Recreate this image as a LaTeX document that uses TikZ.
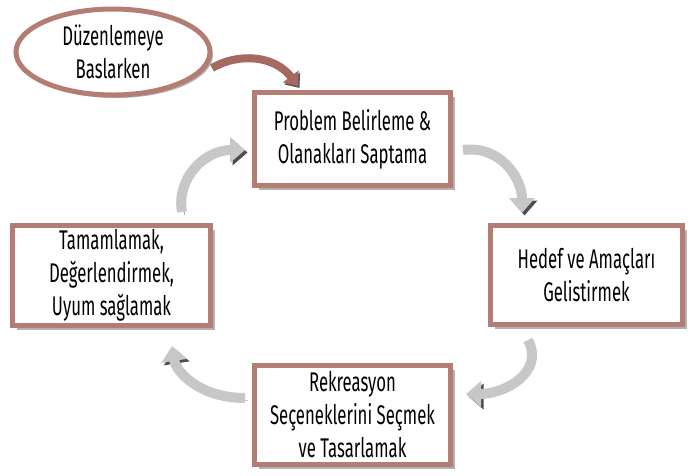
\documentclass[tikz,border=0pt]{standalone}
\usepackage{fontspec}
\setmainfont[FakeStretch=0.62]{Fira Sans}
\usetikzlibrary{shadows,arrows.meta,shapes.geometric}
\definecolor{boxbrown}{RGB}{180,125,115}
\definecolor{arrbrown}{RGB}{165,105,98}
\begin{document}
\begin{tikzpicture}[x=1pt,y=-1pt,
  stepbox/.style={draw=boxbrown, line width=5pt, fill=white, align=center,
    inner sep=0pt, font=\fontsize{27}{33}\selectfont,
    drop shadow={shadow xshift=4pt, shadow yshift=-4pt, fill=black!55, opacity=0.55}},
  startell/.style={ellipse, draw=boxbrown, line width=5pt, fill=white, align=center,
    inner sep=0pt, minimum width=194pt, minimum height=86pt, font=\fontsize{27}{33}\selectfont,
    drop shadow={shadow xshift=3pt, shadow yshift=-3pt, fill=black!55, opacity=0.55}},
  garrow/.style={line width=10pt, draw=black!22, -{Triangle[width=25pt,length=15pt]},
    preaction={draw=black!70, transform canvas={xshift=2.5pt,yshift=-2.5pt}}},
  barrow/.style={line width=8pt, draw=arrbrown, -{Triangle[width=19pt,length=12pt]},
    preaction={draw=black!65, transform canvas={xshift=1.5pt,yshift=-2pt}}}
]
\fill[white] (0,0) rectangle (690,475);
\useasboundingbox (0,0) rectangle (690,475);

\node[startell] (start) at (113,52) {Düzenlemeye\\Baslarken};
\node[stepbox, minimum width=196pt, minimum height=93pt] (p) at (352.5,139) {Problem Belirleme \&\\Olanakları Saptama};
\node[stepbox, minimum width=192pt, minimum height=99pt] (r) at (586.5,275) {Hedef ve Amaçları\\Gelistirmek};
\node[stepbox, minimum width=196pt, minimum height=99pt] (b) at (352.5,415) {Rekreasyon\\Seçeneklerini Seçmek\\ve Tasarlamak};
\node[stepbox, minimum width=198pt, minimum height=100pt] (l) at (111.5,275.5) {Tamamlamak,\\Değerlendirmek,\\Uyum sağlamak};

\coordinate (a0s) at (212,68);
\coordinate (a0e) at (298,86);
\coordinate (a1s) at (182,212);
\coordinate (a1e) at (245,150);
\coordinate (a2s) at (463,150);
\coordinate (a2e) at (522,213);
\coordinate (a3s) at (528,340);
\coordinate (a3e) at (466,394);
\coordinate (a4s) at (245,398);
\coordinate (a4e) at (172,346);

\draw[barrow] (a0s) .. controls (240,52) and (275,56) .. (a0e);
\draw[garrow] (a1s) .. controls (176,178) and (205,150) .. (a1e);
\draw[garrow] (a2s) .. controls (500,145) and (522,178) .. (a2e);
\draw[garrow] (a3s) .. controls (545,372) and (505,394) .. (a3e);
\draw[garrow] (a4s) .. controls (200,398) and (176,372) .. (a4e);
\end{tikzpicture}
\end{document}
